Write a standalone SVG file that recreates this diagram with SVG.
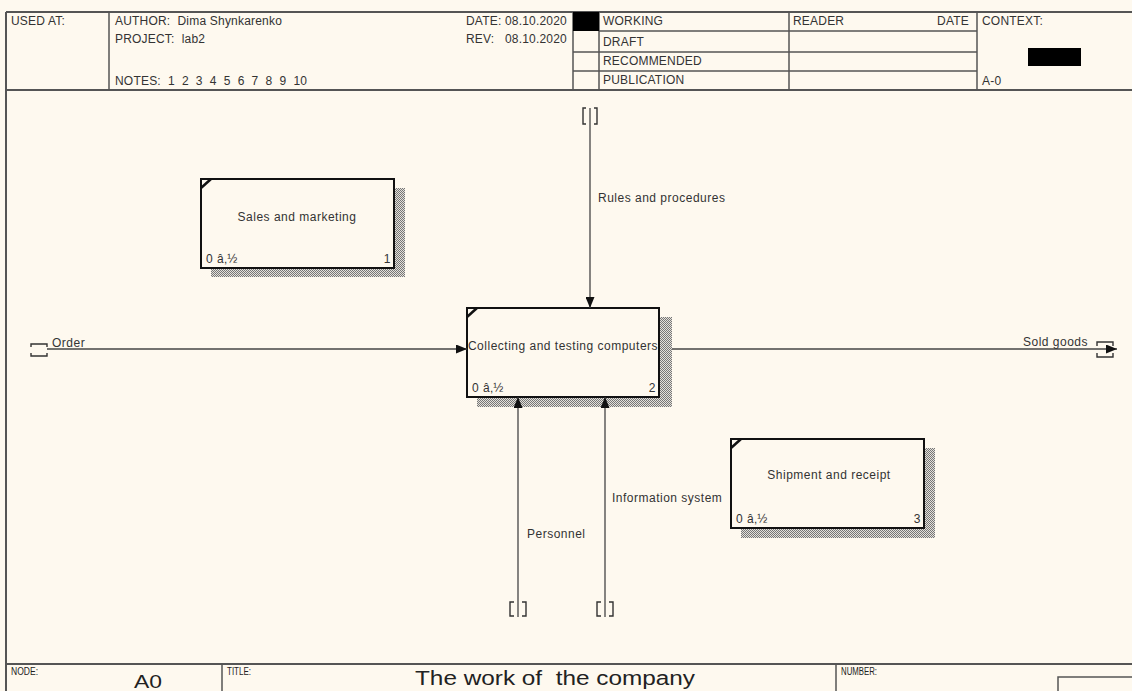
<svg xmlns="http://www.w3.org/2000/svg" width="1132" height="691" viewBox="0 0 1132 691">
  <defs>
    <style>
      .t { font-family: "Liberation Sans", Arial, sans-serif; font-size: 12px; fill: #333; white-space: pre; letter-spacing: 0.5px; }
      .h { font-family: "Liberation Sans", Arial, sans-serif; font-size: 12px; fill: #333; white-space: pre; letter-spacing: 0.2px; }
      .frame { stroke: #555; stroke-width: 2; fill: none; }
      .grid { stroke: #555; stroke-width: 1.5; fill: none; }
      .box { fill: #fef9ef; stroke: #111; stroke-width: 2; }
      .corner { stroke: #111; stroke-width: 2.5; }
      .shadow { fill: url(#hatch); }
      .arrow { stroke: #444; stroke-width: 1.3; fill: none; }
      .tunnel { stroke: #333; stroke-width: 1.4; fill: none; }
      .ft { font-family: "Liberation Sans", Arial, sans-serif; fill: #222; white-space: pre; }
    </style>
    <pattern id="hatch" width="2" height="2" patternUnits="userSpaceOnUse">
      <rect width="2" height="2" fill="#e4e1da"/>
      <rect width="1" height="1" fill="#777"/>
      <rect x="1" y="1" width="1" height="1" fill="#777"/>
    </pattern>
    <marker id="head" markerWidth="11" markerHeight="9" refX="11" refY="4.5" orient="auto" markerUnits="userSpaceOnUse">
      <path d="M0,0 L11,4.5 L0,9 Z" fill="#111"/>
    </marker>
  </defs>

  <rect width="1132" height="691" fill="#fef9ef"/>

  <!-- header form -->
  <g id="header">
    <line class="frame" x1="6" y1="12" x2="1132" y2="12"/>
    <line class="frame" x1="6" y1="90" x2="1132" y2="90"/>
    <line class="frame" x1="6" y1="12" x2="6" y2="691"/>
    <line class="grid" x1="109" y1="12" x2="109" y2="90"/>
    <line class="grid" x1="573" y1="12" x2="573" y2="90"/>
    <line class="grid" x1="599" y1="12" x2="599" y2="90"/>
    <line class="grid" x1="789" y1="12" x2="789" y2="90"/>
    <line class="grid" x1="977" y1="12" x2="977" y2="90"/>
    <line class="grid" x1="599" y1="31" x2="977" y2="31"/>
    <line class="grid" x1="573" y1="52" x2="977" y2="52"/>
    <line class="grid" x1="573" y1="71" x2="977" y2="71"/>
    <rect x="573" y="12" width="26" height="19" fill="#000"/>
    <rect x="1028" y="48" width="53" height="18" fill="#000"/>
    <text class="h" x="11" y="25">USED AT:</text>
    <text class="h" x="115" y="25">AUTHOR:  Dima Shynkarenko</text>
    <text class="h" x="115" y="43">PROJECT:  lab2</text>
    <text class="h" x="115" y="85">NOTES:  1  2  3  4  5  6  7  8  9  10</text>
    <text class="h" x="466" y="25">DATE:</text>
    <text class="h" x="567" y="25" text-anchor="end">08.10.2020</text>
    <text class="h" x="466" y="43">REV:</text>
    <text class="h" x="567" y="43" text-anchor="end">08.10.2020</text>
    <text class="h" x="603" y="25">WORKING</text>
    <text class="h" x="603" y="46">DRAFT</text>
    <text class="h" x="603" y="65">RECOMMENDED</text>
    <text class="h" x="603" y="84">PUBLICATION</text>
    <text class="h" x="793" y="25">READER</text>
    <text class="h" x="969" y="25" text-anchor="end">DATE</text>
    <text class="h" x="982" y="25">CONTEXT:</text>
    <text class="h" x="982" y="85">A-0</text>
  </g>

  <!-- activity 1 -->
  <g id="node-sales">
    <rect class="shadow" x="211" y="188" width="194" height="89"/>
    <rect class="box" x="201" y="179" width="193" height="89"/>
    <line class="corner" x1="201" y1="188" x2="211" y2="179"/>
    <text class="t" x="297" y="221" text-anchor="middle">Sales and marketing</text>
    <text class="t" x="206" y="263">0 â‚½</text>
    <text class="t" x="391" y="263" text-anchor="end">1</text>
  </g>

  <!-- activity 2 -->
  <g id="node-collecting">
    <rect class="shadow" x="477" y="317" width="195" height="90"/>
    <rect class="box" x="467" y="308" width="192" height="89"/>
    <line class="corner" x1="467" y1="317" x2="477" y2="308"/>
    <text class="t" x="563" y="350" text-anchor="middle">Collecting and testing computers</text>
    <text class="t" x="472" y="392">0 â‚½</text>
    <text class="t" x="656" y="392" text-anchor="end">2</text>
  </g>

  <!-- activity 3 -->
  <g id="node-shipment">
    <rect class="shadow" x="741" y="448" width="194" height="90"/>
    <rect class="box" x="731" y="439" width="193" height="89"/>
    <line class="corner" x1="731" y1="448" x2="741" y2="439"/>
    <text class="t" x="829" y="479" text-anchor="middle">Shipment and receipt</text>
    <text class="t" x="736" y="523">0 â‚½</text>
    <text class="t" x="921" y="523" text-anchor="end">3</text>
  </g>

  <!-- connectors -->
  <g id="connectors">
    <!-- Order (input) -->
    <path class="tunnel" d="M31,347 V344 H47 V347 M31,353 V356 H47 V353"/>
    <line class="arrow" x1="47" y1="349" x2="467" y2="349" marker-end="url(#head)"/>
    <text class="t" x="52" y="347">Order</text>

    <!-- Sold goods (output) -->
    <line class="arrow" x1="672" y1="349" x2="1117" y2="349" marker-end="url(#head)"/>
    <path class="tunnel" d="M1097,346 V342 H1113 V346 M1097,353 V357 H1113 V353"/>
    <text class="t" x="1023" y="346">Sold goods</text>

    <!-- Rules and procedures (control) -->
    <line class="arrow" x1="590" y1="108" x2="590" y2="308" marker-end="url(#head)"/>
    <path class="tunnel" d="M586,108 H583 V124 H586 M594,108 H597 V124 H594"/>
    <text class="t" x="598" y="202">Rules and procedures</text>

    <!-- Personnel (mechanism) -->
    <line class="arrow" x1="518" y1="617" x2="518" y2="397" marker-end="url(#head)"/>
    <path class="tunnel" d="M514,602 H510 V616 H514 M522,602 H526 V616 H522"/>
    <text class="t" x="527" y="538">Personnel</text>

    <!-- Information system (mechanism) -->
    <line class="arrow" x1="605" y1="617" x2="605" y2="397" marker-end="url(#head)"/>
    <path class="tunnel" d="M601,602 H597 V616 H601 M609,602 H613 V616 H609"/>
    <text class="t" x="612" y="502">Information system</text>
  </g>

  <!-- footer form -->
  <g id="footer">
    <line class="frame" x1="6" y1="664" x2="1132" y2="664"/>
    <line class="grid" x1="222" y1="664" x2="222" y2="691"/>
    <line class="grid" x1="836" y1="664" x2="836" y2="691"/>
    <path class="grid" d="M1058,691 V677 H1132"/>
    <text class="ft" x="11" y="675" font-size="10" textLength="27" lengthAdjust="spacingAndGlyphs">NODE:</text>
    <text class="ft" x="134" y="688" font-size="19" textLength="28" lengthAdjust="spacingAndGlyphs">A0</text>
    <text class="ft" x="227" y="675" font-size="10" textLength="24" lengthAdjust="spacingAndGlyphs">TITLE:</text>
    <text class="ft" x="415" y="685" font-size="20" textLength="280" lengthAdjust="spacingAndGlyphs">The work of  the company</text>
    <text class="ft" x="841" y="675" font-size="10" textLength="36" lengthAdjust="spacingAndGlyphs">NUMBER:</text>
  </g>
</svg>
